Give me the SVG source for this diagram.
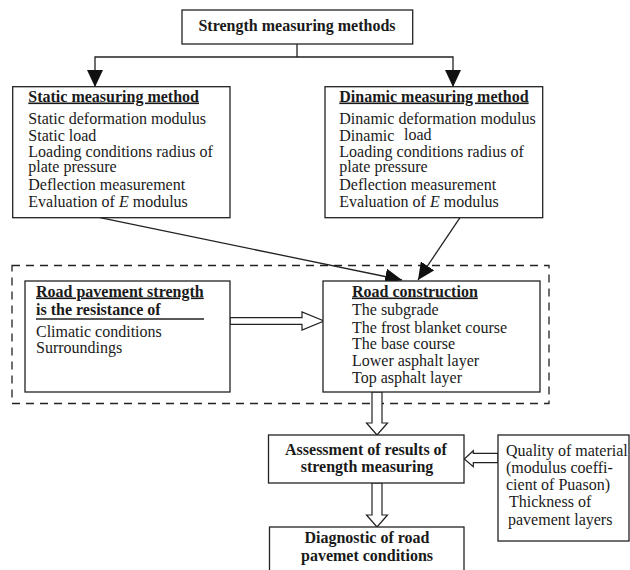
<svg xmlns="http://www.w3.org/2000/svg" width="630" height="570" viewBox="0 0 630 570">
<style>
  .box { fill: #fff; stroke: #222; stroke-width: 1.3; }
  .dash { fill: none; stroke: #222; stroke-width: 1.3; stroke-dasharray: 8 6; }
  .ln { fill: none; stroke: #222; stroke-width: 1.3; }
  .hol { fill: #fff; stroke: #222; stroke-width: 1.2; stroke-linejoin: miter; }
  text { font-family: "Liberation Serif", "Times New Roman", serif; font-size: 16px; fill: #1a1a1a; }
  .b { font-weight: bold; }
  .u { text-decoration: underline; }
  .c { text-anchor: middle; }
</style>
<defs>
  <marker id="arrow" markerUnits="userSpaceOnUse" markerWidth="17" markerHeight="16" refX="17" refY="8" orient="auto">
    <path d="M0,0 L17,8 L0,16 z" fill="#111"/>
  </marker>
</defs>
<rect width="630" height="570" fill="#fff"/>

<rect class="dash" x="12" y="265.5" width="537" height="138"/>

<g id="connectors">
  <path class="ln" d="M297,44 V57 H95 V87" marker-end="url(#arrow)"/>
  <path class="ln" d="M297,57 H453 V87" marker-end="url(#arrow)"/>
  <path class="ln" d="M100,217.7 L402,280" marker-end="url(#arrow)"/>
  <path class="ln" d="M460,217.7 L418,280" marker-end="url(#arrow)"/>
  <polygon class="hol" points="230,317.7 302,317.7 302,312 324,321 302,330 302,324.3 230,324.3"/>
  <polygon class="hol" points="372,392 382,392 382,423 387.5,423 377,435 366.5,423 372,423"/>
  <polygon class="hol" points="372,483 382,483 382,515 387.5,515 377,527 366.5,515 372,515"/>
  <polygon class="hol" points="498,453.3 473.3,453.3 473.3,450.7 464.3,459 473.3,466.7 473.3,462.7 498,462.7"/>
</g>

<g id="strength-methods">
  <rect class="box" x="182" y="10" width="230.7" height="34"/>
  <text class="b c" x="297" y="31">Strength measuring methods</text>
</g>

<g id="static-method">
  <rect class="box" x="12.7" y="86.7" width="217.3" height="131"/>
  <text class="b u" x="28.3" y="101.5">Static measuring method</text>
  <text x="28.3" y="123.5">Static deformation modulus</text>
  <text x="28.3" y="140.5">Static load</text>
  <text x="28.3" y="156.5">Loading conditions radius of</text>
  <text x="28.3" y="172">plate pressure</text>
  <text x="28.3" y="190">Deflection measurement</text>
  <text x="28.3" y="207">Evaluation of <tspan font-style="italic">E</tspan> modulus</text>
</g>

<g id="dinamic-method">
  <rect class="box" x="325" y="86.7" width="217.7" height="131"/>
  <text class="b u" x="339.3" y="101.5">Dinamic measuring method</text>
  <text x="339.3" y="123.5">Dinamic deformation modulus</text>
  <text x="339.3" y="140.5">Dinamic</text>
  <text x="404" y="139.5" font-size="15">load</text>
  <text x="339.3" y="156.5">Loading conditions radius of</text>
  <text x="339.3" y="172">plate pressure</text>
  <text x="339.3" y="190">Deflection measurement</text>
  <text x="339.3" y="207">Evaluation of <tspan font-style="italic">E</tspan> modulus</text>
</g>

<g id="road-pavement-strength">
  <rect class="box" x="25" y="281" width="205" height="111"/>
  <text class="b u" x="36" y="296.5">Road pavement strength</text>
  <text class="b" x="36" y="314.5">is the resistance of</text>
  <line class="ln" x1="36" y1="319" x2="204" y2="319"/>
  <text x="36" y="336.5">Climatic conditions</text>
  <text x="36" y="353">Surroundings</text>
</g>

<g id="road-construction">
  <rect class="box" x="323" y="281" width="217" height="111"/>
  <text class="b u" x="352" y="296.5">Road construction</text>
  <text x="352" y="315">The subgrade</text>
  <text x="352" y="332.5">The frost blanket course</text>
  <text x="352" y="349">The base course</text>
  <text x="352" y="366">Lower  asphalt layer</text>
  <text x="352" y="383">Top asphalt layer</text>
</g>

<g id="assessment">
  <rect class="box" x="268.5" y="435" width="195.5" height="48"/>
  <text class="b c" x="366" y="455">Assessment of results of</text>
  <text class="b c" x="367" y="472">strength measuring</text>
</g>

<g id="quality">
  <rect class="box" x="498" y="435" width="131" height="106"/>
  <text x="506" y="455.5">Quality of material</text>
  <text x="506" y="473">(modulus coeffi-</text>
  <text x="506" y="489.5">cient of Puason)</text>
  <text x="509" y="507">Thickness of</text>
  <text x="508" y="525">pavement layers</text>
</g>

<g id="diagnostic">
  <rect class="box" x="269.5" y="527" width="194.5" height="50"/>
  <text class="b c" x="367" y="543">Diagnostic of road</text>
  <text class="b c" x="367" y="561">pavemet conditions</text>
</g>
</svg>
